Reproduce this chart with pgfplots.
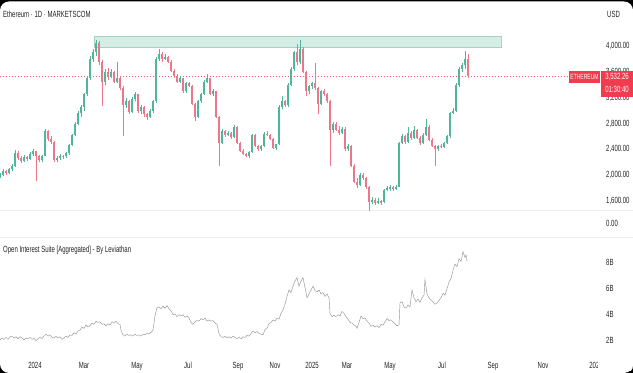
\documentclass[border=0pt]{standalone}
\usepackage{pgfplots}
\usepackage{pgfplotstable}
\pgfplotsset{compat=1.18}
\usepackage{fontspec}
\setmainfont{Liberation Sans}[FakeStretch=0.67]
\definecolor{upc}{RGB}{80,182,155}
\definecolor{dnc}{RGB}{238,118,138}
\definecolor{zonef}{RGB}{212,238,230}
\definecolor{zoned}{RGB}{165,210,198}
\definecolor{tvred}{RGB}{240,60,78}
\definecolor{txt}{RGB}{35,35,40}
\definecolor{sep}{RGB}{236,239,244}
\definecolor{oic}{RGB}{150,150,150}

\pgfplotstableread{
x o h l c
0 1980 2040 1950 2000
3 2000 2090 1980 2060
6 2060 2080 2010 2040
9 2040 2110 2020 2090
12 2090 2180 2070 2150
15 2150 2390 2130 2350
18 2350 2370 2230 2260
21 2260 2290 2190 2220
24 2220 2310 2200 2280
27 2280 2300 2220 2250
30 2250 2360 2230 2330
33 2330 2400 2300 2370
36 2370 2380 1910 2290
39 2290 2310 2200 2230
42 2230 2320 2210 2300
45 2300 2720 2290 2680
48 2680 2700 2530 2560
51 2560 2600 2480 2510
54 2510 2530 2200 2230
57 2230 2290 2210 2260
60 2260 2330 2240 2300
63 2300 2320 2250 2290
66 2290 2360 2270 2340
69 2340 2490 2320 2470
72 2470 2640 2450 2620
75 2620 2830 2600 2800
78 2800 2990 2770 2960
81 2960 3080 2900 3050
84 3050 3280 3000 3250
87 3250 3540 3220 3500
90 3500 3850 3470 3800
93 3800 3950 3750 3900
96 3900 4090 3850 4050
99 4050 4070 3700 3750
102 3750 3780 3070 3450
105 3450 3640 3400 3600
108 3600 3660 3480 3520
111 3520 3640 3500 3600
114 3600 3620 3420 3450
117 3450 3750 3420 3500
120 3500 3530 3320 3350
123 3350 3380 2610 3080
126 3080 3200 3040 3150
129 3150 3170 2950 2980
132 2980 3210 2960 3180
135 3180 3290 3150 3250
138 3250 3260 2970 3000
141 3000 3090 2950 3050
144 3050 3070 2900 2940
147 2940 2960 2860 2900
150 2900 3020 2880 2990
153 2990 3170 2970 3150
156 3150 3830 3120 3800
159 3800 3960 3770 3880
162 3880 3910 3760 3800
165 3800 3870 3780 3830
168 3830 3850 3730 3760
171 3760 3780 3590 3620
174 3620 3640 3500 3530
177 3530 3560 3420 3450
180 3450 3530 3430 3500
183 3500 3510 3280 3300
186 3300 3450 3280 3420
189 3420 3450 3360 3380
192 3380 3400 3080 3100
195 3100 3120 2840 2900
198 2900 3170 2880 3150
201 3150 3280 3120 3260
204 3260 3470 3240 3450
207 3450 3560 3420 3500
210 3500 3510 3240 3260
213 3260 3330 3230 3300
216 3300 3310 2880 2900
219 2900 2920 2140 2500
222 2500 2720 2480 2680
225 2680 2700 2590 2620
228 2620 2680 2600 2650
231 2650 2670 2560 2590
234 2590 2770 2570 2740
237 2740 2760 2480 2500
240 2500 2520 2360 2380
243 2380 2400 2310 2330
246 2330 2350 2280 2300
249 2300 2380 2270 2360
252 2360 2640 2340 2620
255 2620 2630 2430 2450
258 2450 2470 2380 2400
261 2400 2470 2380 2450
264 2450 2670 2430 2640
267 2640 2680 2600 2620
270 2620 2640 2540 2560
273 2560 2580 2400 2420
276 2420 2490 2390 2480
279 2480 3080 2460 3050
282 3050 3220 3020 3150
285 3150 3170 3060 3080
288 3080 3420 3060 3400
291 3400 3680 3380 3650
294 3650 3920 3620 3900
297 3900 4030 3700 3750
300 3750 4100 3720 3950
303 3950 3980 3580 3600
306 3600 3620 3230 3300
309 3300 3400 3260 3380
312 3380 3450 3340 3420
315 3420 3740 3320 3350
318 3350 3370 2940 3100
321 3100 3320 3080 3300
324 3300 3340 3220 3250
327 3250 3280 3120 3150
330 3150 3170 2140 2700
333 2700 2830 2660 2800
336 2800 2820 2680 2700
339 2700 2760 2620 2650
342 2650 2750 2630 2720
345 2720 2740 2380 2400
348 2400 2480 2380 2450
351 2450 2460 2120 2150
354 2150 2170 1880 1900
357 1900 1950 1800 1850
360 1850 2030 1830 2000
363 2000 2040 1930 1950
366 1950 1970 1780 1820
369 1820 1840 1440 1580
372 1580 1660 1550 1620
375 1620 1640 1540 1570
378 1570 1640 1550 1600
381 1600 1620 1540 1580
384 1580 1790 1570 1770
387 1770 1840 1750 1800
390 1800 1850 1760 1810
393 1810 1830 1760 1790
396 1790 1850 1770 1820
399 1820 2520 1810 2500
402 2500 2640 2480 2600
405 2600 2620 2490 2520
408 2520 2740 2500 2650
411 2650 2680 2550 2580
414 2580 2760 2560 2700
417 2700 2720 2560 2580
420 2580 2600 2470 2500
423 2500 2650 2480 2620
426 2620 2870 2600 2750
429 2750 2770 2530 2550
432 2550 2570 2430 2450
435 2450 2470 2140 2400
438 2400 2470 2380 2450
441 2450 2490 2420 2440
444 2440 2520 2420 2500
447 2500 2620 2480 2600
450 2600 2980 2580 2960
453 2960 3040 2940 3000
456 3000 3420 2980 3400
459 3400 3680 3370 3650
462 3650 3740 3600 3700
465 3700 3930 3650 3800
468 3800 3880 3500 3532.26
}\candles

\pgfplotstableread{
x v
0 2.05
2 2.2
4 2.1
6 2.25
8 2.1
10 2.3
12 2.35
14 2.2
16 2.3
18 2.15
20 2.3
22 2.2
24 2.05
26 2.2
28 2.15
30 2.25
32 2.1
34 2.2
36 2.0
38 2.15
40 2.25
42 2.15
44 2.35
46 2.5
48 2.35
50 2.45
52 2.25
54 2.2
56 2.35
58 2.2
60 2.3
62 2.1
64 2.2
66 2.35
68 2.25
70 2.45
72 2.4
74 2.6
76 2.5
78 2.75
80 2.8
82 3.05
84 2.95
86 3.2
88 3.05
90 3.15
92 3.35
94 3.25
96 3.5
98 3.4
100 3.45
102 3.25
104 3.3
106 3.15
108 3.3
110 3.2
112 3.45
114 3.35
116 3.5
118 3.3
120 3.25
121 2.8
123 2.45
125 2.35
127 2.5
129 2.4
131 2.45
133 2.35
135 2.5
137 2.4
139 2.45
141 2.35
143 2.5
145 2.45
147 2.6
149 2.5
151 2.65
153 2.8
155 3.9
157 4.55
159 4.6
161 4.45
163 4.65
165 4.5
167 4.7
169 4.45
171 4.3
173 4.0
175 4.05
177 3.85
179 4.0
181 3.9
183 4.0
185 3.8
187 3.9
189 3.75
191 3.4
193 3.25
195 3.45
197 3.55
199 3.5
201 3.7
203 3.6
205 3.75
207 3.5
209 3.6
211 3.5
213 3.55
215 3.35
217 3.25
219 2.55
221 2.3
223 2.25
225 2.35
227 2.2
229 2.3
231 2.2
233 2.35
235 2.25
237 2.15
239 2.25
241 2.15
243 2.3
245 2.25
247 2.4
249 2.35
251 2.55
253 2.75
255 2.6
257 2.7
259 2.55
261 2.5
263 2.45
265 2.85
267 2.95
269 3.3
271 3.4
273 3.6
275 3.5
277 3.75
279 3.65
281 4.1
283 4.35
285 4.8
287 5.4
289 5.9
291 5.7
293 6.2
295 6.6
297 6.85
299 6.2
301 6.6
303 6.85
305 6.1
307 5.3
309 5.6
311 5.9
313 6.2
315 5.85
317 5.75
319 5.9
321 5.6
323 5.7
325 5.4
327 5.6
329 5.3
330 4.1
332 3.85
334 3.95
336 3.85
338 4.0
340 3.9
342 4.25
344 4.1
346 3.85
348 3.65
350 3.4
352 3.35
354 3.2
356 3.1
357 2.95
359 3.4
361 3.9
363 3.7
365 3.75
367 3.5
369 3.35
371 3.1
373 3.2
375 3.05
377 3.15
379 3.0
381 3.25
383 3.2
385 3.45
387 3.7
389 3.55
391 3.6
393 3.45
395 3.3
397 3.15
399 3.2
400 4.9
402 5.0
404 4.6
406 4.5
408 4.75
410 4.6
412 5.9
414 5.3
416 5.0
418 5.2
420 4.95
422 5.3
424 5.5
425 6.7
427 5.6
429 5.3
431 5.1
433 5.0
435 4.8
437 4.9
439 5.1
441 5.3
443 5.65
445 5.5
447 6.0
449 6.5
451 6.8
453 7.4
455 7.9
457 7.7
459 8.3
461 8.1
463 8.85
465 8.4
466 8.6
467 8.1
}\oi

\begin{document}
\begin{tikzpicture}[font=\fontsize{9}{10}\selectfont]
\useasboundingbox (0,0) rectangle (633bp,373bp);
\fill[black] (0,0) rectangle (633bp,373bp);
\fill[white, rounded corners=9bp] (0,0) rectangle (633bp,371.5bp);
\draw[sep, line width=0.8bp] (0,163bp) -- (633bp,163bp);
\draw[sep, line width=0.8bp] (0,136bp) -- (633bp,136bp);

\pgfplotsset{
  tvax/.style={
    scale only axis, width=633bp, xmin=0, xmax=633,
    axis line style={draw=none}, tick style={draw=none},
    major tick length=0pt, clip=false,
    yticklabel pos=right,
    yticklabel style={anchor=west, inner sep=0pt, xshift=-27bp, text=txt},
    xticklabel style={anchor=base, inner sep=0pt, yshift=-18bp, text=txt},
  },
  candle/.style n args={2}{draw=none, mark=none, forget plot,
    error bars/.cd, y dir=both, y explicit, error mark=none,
    error bar style={draw=#1, solid, line width=#2}, /pgfplots/.cd},
}

% price pane
\begin{axis}[tvax, at={(0bp,161bp)}, anchor=south west, height=192bp,
  ymin=1430.3, ymax=4402.5, xtick=\empty,
  ytick={1600,2000,2400,2800,3200,3600,4000},
  yticklabels={{1,600.00},{2,000.00},{2,400.00},{2,800.00},{3,200.00},{3,600.00},{4,000.00}}]
\addplot[fill=zonef, draw=zoned, line width=0.6bp] coordinates {(94,3975) (501,3975) (501,4155) (94,4155)} -- cycle;
\addplot[tvred!85, line width=0.5bp, dash pattern=on 1bp off 2bp] coordinates {(0,3532.26) (569,3532.26)};
% wicks
\addplot[restrict expr to domain={\thisrow{c}-\thisrow{o}}{0:100000}, candle={upc}{0.45bp}]
  table[x=x, y expr={(\thisrow{h}+\thisrow{l})/2}, y error expr={(\thisrow{h}-\thisrow{l})/2}] {\candles};
\addplot[restrict expr to domain={\thisrow{c}-\thisrow{o}}{-100000:-0.001}, candle={dnc}{0.45bp}]
  table[x=x, y expr={(\thisrow{h}+\thisrow{l})/2}, y error expr={(\thisrow{h}-\thisrow{l})/2}] {\candles};
% bodies
\addplot[restrict expr to domain={\thisrow{c}-\thisrow{o}}{0:100000}, candle={upc}{1.4bp}]
  table[x=x, y expr={(\thisrow{o}+\thisrow{c})/2}, y error expr={max(abs(\thisrow{c}-\thisrow{o})/2,8)}] {\candles};
\addplot[restrict expr to domain={\thisrow{c}-\thisrow{o}}{-100000:-0.001}, candle={dnc}{1.4bp}]
  table[x=x, y expr={(\thisrow{o}+\thisrow{c})/2}, y error expr={max(abs(\thisrow{c}-\thisrow{o})/2,8)}] {\candles};
\end{axis}

% open interest pane
\begin{axis}[tvax, at={(0bp,23bp)}, anchor=south west, height=110bp,
  ymin=1.28, ymax=9.75,
  ytick={2,4,6,8}, yticklabels={2B,4B,6B,8B},
  xtick={35,84,137,188,238,275,312,347,390,442,493,543,596},
  xticklabels={2024,Mar,May,Jul,Sep,Nov,2025,Mar,May,Jul,Sep,Nov,2026}]
\addplot[oic, line width=0.45bp] table[x=x, y=v] {\oi};
\end{axis}

% cut-off of the last time label, frame corner
\fill[white] (597.5bp,2bp) rectangle (633bp,16bp);
\fill[black] (633bp,0) -- (626bp,0) arc[start angle=270, end angle=360, radius=7bp] -- cycle;

% texts
\node[anchor=west, inner sep=0pt, text=txt] at (3bp,359bp) {Ethereum · 1D · MARKETSCOM};
\node[anchor=west, inner sep=0pt, text=txt] at (607bp,359bp) {USD};
\node[anchor=west, inner sep=0pt, text=txt] at (606bp,150bp) {0.00};
\node[anchor=west, inner sep=0pt, text=txt] at (3bp,123bp) {Open Interest Suite [Aggregated] - By Leviathan};

% price labels
\fill[tvred] (569bp,290bp) rectangle (600bp,302bp);
\fill[tvred] (601bp,276bp) rectangle (633bp,302bp);
\node[text=white, inner sep=0pt, font=\fontsize{7.5}{8}\selectfont] at (584.5bp,296bp) {ETHEREUM};
\node[text=white, inner sep=0pt] at (617bp,296bp) {3,532.26};
\node[text=white, inner sep=0pt] at (617bp,283.5bp) {01:30:40};
\end{tikzpicture}
\end{document}
